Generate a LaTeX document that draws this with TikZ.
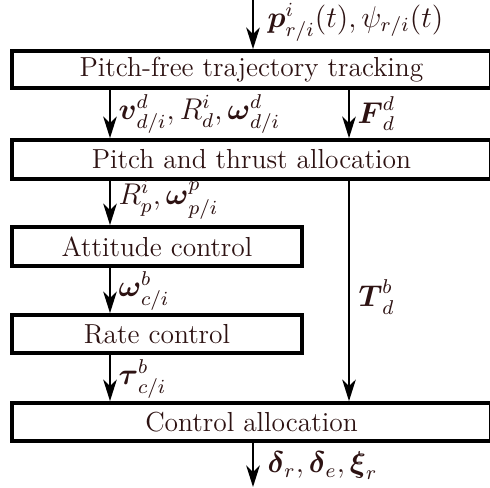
\documentclass[tikz,border=0pt]{standalone}
\usepackage{amsmath}
\usetikzlibrary{arrows.meta}
\definecolor{txt}{RGB}{45,18,18}
\begin{document}
\begin{tikzpicture}[x=0.4pt,y=-0.4pt,
  blk/.style={draw=black,line width=1.5pt,fill=white,inner sep=0pt,text=txt,font=\fontsize{11}{13}\selectfont},
  arr/.style={line width=1.1pt,-{Stealth[length=8.6pt,width=5.4pt,inset=2.6pt]}},
  lab/.style={anchor=west,inner sep=0pt,text=txt,font=\fontsize{11.6}{14}\selectfont}]
\useasboundingbox (0,0) rectangle (490,487);
\node[blk,minimum width=191.6pt,minimum height=14.8pt] (b1) at (251.5,69.5) {Pitch-free trajectory tracking};
\node[blk,minimum width=191.6pt,minimum height=15.6pt] (b2) at (251.5,159.5) {Pitch and thrust allocation};
\node[blk,minimum width=116pt,minimum height=15.6pt] (b3) at (157,246.5) {Attitude control};
\node[blk,minimum width=116pt,minimum height=15.2pt] (b4) at (157,334) {Rate control};
\node[blk,minimum width=191.6pt,minimum height=15.2pt] (b5) at (251.5,422) {Control allocation};
\coordinate (in) at (253,0);
\coordinate (out) at (253,487);
\coordinate (xl) at (110,0);
\coordinate (xr) at (349,0);
\draw[arr] (in) -- (in |- b1.north);
\draw[arr] (b1.south -| xl) -- (b2.north -| xl);
\draw[arr] (b1.south -| xr) -- (b2.north -| xr);
\draw[arr] (b2.south -| xl) -- (b3.north -| xl);
\draw[arr] (b3.south -| xl) -- (b4.north -| xl);
\draw[arr] (b4.south -| xl) -- (b5.north -| xl);
\draw[arr] (b2.south -| xr) -- (b5.north -| xr);
\draw[arr] (out |- b5.south) -- (out);
\node[lab] (l0) at (267,22) {$\boldsymbol{p}^i_{r/i}(t),\psi_{r/i}(t)$};
\node[lab] (l1) at (118,114) {$\boldsymbol{v}^d_{d/i},R^i_d,\boldsymbol{\omega}^d_{d/i}$};
\node[lab] (l2) at (357,114) {$\boldsymbol{F}^d_d$};
\node[lab] (l3) at (118,200) {$R^i_p,\boldsymbol{\omega}^p_{p/i}$};
\node[lab] (l4) at (118,291) {$\boldsymbol{\omega}^b_{c/i}$};
\node[lab] (l5) at (358,297) {$\boldsymbol{T}^b_d$};
\node[lab] (l6) at (118,379) {$\boldsymbol{\tau}^b_{c/i}$};
\node[lab] (l7) at (267,466) {$\boldsymbol{\delta}_r,\boldsymbol{\delta}_e,\boldsymbol{\xi}_r$};
\end{tikzpicture}
\end{document}
